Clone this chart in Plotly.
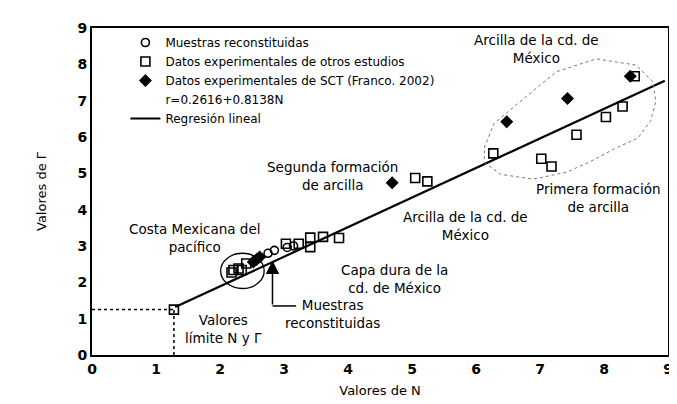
import plotly.graph_objects as go

# Muestras reconstituidas (circulos abiertos)
rec_n = [2.75, 2.85, 3.05, 3.15]
rec_g = [2.80, 2.88, 2.96, 3.00]

# Datos experimentales de otros estudios (cuadros)
otros_n = [1.28, 2.18, 2.21, 2.29, 2.34, 2.41, 3.03, 3.23, 3.41, 3.41, 3.61, 3.86,
           5.05, 5.24, 6.27, 7.02, 7.18, 7.57, 8.03, 8.29, 8.48]
otros_g = [1.25, 2.27, 2.34, 2.38, 2.34, 2.52, 3.06, 3.06, 2.97, 3.23, 3.25, 3.22,
           4.87, 4.78, 5.55, 5.40, 5.19, 6.06, 6.55, 6.84, 7.67]

# Datos experimentales de SCT (Franco, 2002)
sct_n = [2.52, 2.57, 2.62, 4.69, 6.48, 7.43, 8.41]
sct_g = [2.56, 2.63, 2.70, 4.74, 6.42, 7.06, 7.67]

# Regresion lineal r=0.2616+0.8138N (extremos)
reg_n = [1.30, 8.95]
reg_g = [1.32, 7.55]

# contorno punteado de la arcilla de la cd. de Mexico
zona_n = [6.13, 6.28, 6.70, 7.26, 7.88, 8.50, 8.76, 8.81, 8.73, 8.53, 8.19, 7.76, 7.41, 6.90, 6.39, 6.13]
zona_g = [5.70, 6.37, 6.99, 7.80, 8.15, 7.98, 7.53, 6.99, 6.45, 5.97, 5.70, 5.30, 5.03, 4.84, 4.97, 5.30]

limite_n = 1.28
limite_g = 1.25

FONT = "DejaVu Sans"

fig = go.Figure()
fig.add_trace(go.Scatter(x=rec_n, y=rec_g, mode='markers', name='Muestras reconstituidas',
                         marker=dict(symbol='circle-open', size=8, color='black', line=dict(width=1.6))))
fig.add_trace(go.Scatter(x=otros_n, y=otros_g, mode='markers', name='Datos experimentales de otros estudios',
                         marker=dict(symbol='square-open', size=9, color='black', line=dict(width=1.6))))
fig.add_trace(go.Scatter(x=sct_n, y=sct_g, mode='markers', name='Datos experimentales de SCT (Franco. 2002)',
                         marker=dict(symbol='diamond', size=10, color='black')))
fig.add_trace(go.Scatter(x=[None], y=[None], mode='markers', name='r=0.2616+0.8138N',
                         marker=dict(color='rgba(0,0,0,0)')))
fig.add_trace(go.Scatter(x=reg_n, y=reg_g, mode='lines', name='Regresión lineal',
                         line=dict(color='black', width=2.2)))

# zona punteada
path = 'M ' + ' L '.join(f'{a},{b}' for a, b in zip(zona_n, zona_g)) + ' Z'
fig.add_shape(type='path', path=path, xref='x', yref='y', line=dict(color='#777', width=1, dash='dot'))
# elipse costa del pacifico
fig.add_shape(type='circle', xref='x', yref='y', x0=2.01, x1=2.69, y0=1.83, y1=2.80,
              line=dict(color='black', width=1.3))
# lineas de valores limite
fig.add_shape(type='line', xref='x', yref='y', x0=0, x1=limite_n, y0=limite_g, y1=limite_g,
              line=dict(color='black', width=1.5, dash='dot'))
fig.add_shape(type='line', xref='x', yref='y', x0=limite_n, x1=limite_n, y0=0, y1=limite_g,
              line=dict(color='black', width=1.5, dash='dot'))
# flecha muestras reconstituidas
fig.add_shape(type='line', xref='x', yref='y', x0=2.82, x1=3.19, y0=1.35, y1=1.35,
              line=dict(color='black', width=1.5))
fig.add_annotation(x=2.82, y=2.6, ax=2.82, ay=1.35, axref='x', ayref='y', xref='x', yref='y',
                   text='', showarrow=True, arrowhead=2, arrowsize=1.8, arrowwidth=1.5, arrowcolor='black')

textos = [
    (6.95, 8.42, 'Arcilla de la cd. de<br>México'),
    (3.75, 4.92, 'Segunda formación<br>de arcilla'),
    (7.92, 4.32, 'Primera formación<br>de arcilla'),
    (5.83, 3.54, 'Arcilla de la cd. de<br>México'),
    (4.72, 2.08, 'Capa dura de la<br>cd. de México'),
    (1.60, 3.22, 'Costa Mexicana del<br>pacífico'),
    (2.05, 0.72, 'Valores<br>límite N y Γ'),
    (3.75, 1.12, 'Muestras<br>reconstituidas'),
]
for x, y, t in textos:
    fig.add_annotation(x=x, y=y, xref='x', yref='y', text=t, showarrow=False, align='center',
                       font=dict(family=FONT, size=13.5, color='black'))

fig.update_xaxes(range=[0, 9], dtick=1, showgrid=False, zeroline=False, showline=True, mirror=True,
                 linecolor='black', linewidth=2, ticks='',
                 tickfont=dict(family=FONT, size=14, color='black', weight='bold'),
                 title=dict(text='Valores de N', font=dict(family=FONT, size=13, color='black'), standoff=10))
fig.update_yaxes(range=[0, 9], dtick=1, showgrid=False, zeroline=False, showline=True, mirror=True,
                 linecolor='black', linewidth=2, ticks='',
                 tickfont=dict(family=FONT, size=14, color='black', weight='bold'),
                 title=dict(text='Valores de Γ', font=dict(family=FONT, size=13, color='black'), standoff=28))
fig.update_layout(width=677, height=404, margin=dict(l=84, r=17, t=12, b=57),
                  plot_bgcolor='white', paper_bgcolor='white',
                  legend=dict(x=0.058, y=1.0, xanchor='left', yanchor='top', bgcolor='rgba(0,0,0,0)',
                              font=dict(family=FONT, size=12, color='black'), tracegroupgap=0))
fig.write_html("out.html")
